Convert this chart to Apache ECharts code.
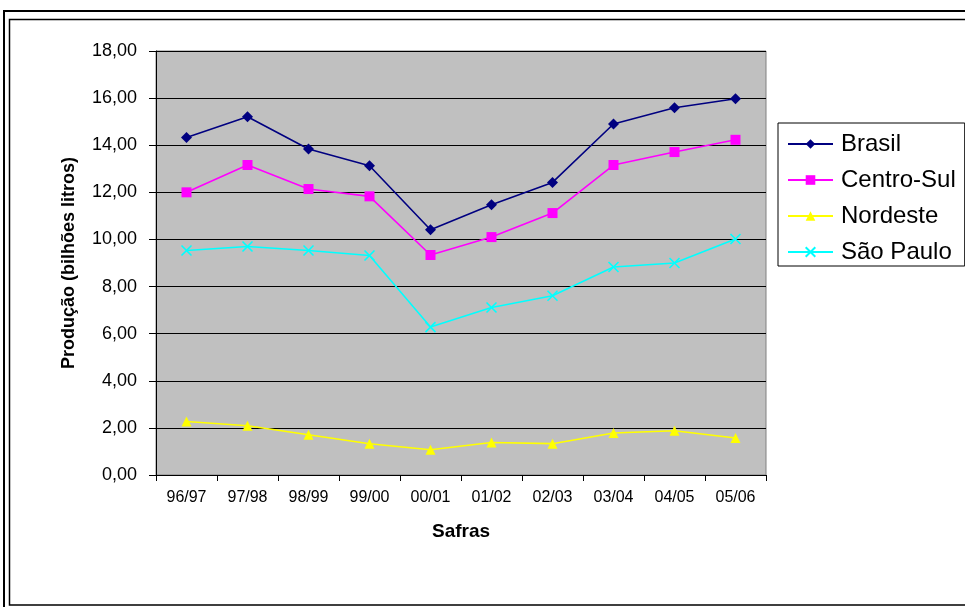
<!DOCTYPE html>
<html>
<head>
<meta charset="utf-8">
<script src="https://cdn.jsdelivr.net/npm/echarts@6/dist/echarts.min.js"></script>
<style>
  html, body { margin: 0; padding: 0; background: #ffffff; }
  #chart { width: 965px; height: 607px; }
</style>
</head>
<body>
<div id="chart"></div>
<script>
// Produção de álcool por safra (bilhões de litros)
const safras = ['96/97', '97/98', '98/99', '99/00', '00/01', '01/02', '02/03', '03/04', '04/05', '05/06'];
const brasil = [14.33, 15.21, 13.84, 13.13, 10.41, 11.47, 12.42, 14.90, 15.59, 15.97];
const centroSul = [12.00, 13.16, 12.14, 11.83, 9.34, 10.10, 11.12, 13.16, 13.71, 14.23];
const nordeste = [2.27, 2.09, 1.71, 1.33, 1.07, 1.38, 1.33, 1.78, 1.88, 1.57];
const saoPaulo = [9.53, 9.70, 9.53, 9.32, 6.28, 7.11, 7.61, 8.83, 9.00, 10.02];

const FONT = 'Liberation Sans, Arial, sans-serif';

function lineSeries(name, data, color, symbol, size) {
  return {
    name: name,
    type: 'line',
    data: data,
    symbol: symbol,
    symbolSize: size,
    showAllSymbol: true,
    lineStyle: { color: color, width: 1.6 },
    itemStyle: { color: color, borderWidth: 0 },
    emphasis: { disabled: true },
    animation: false
  };
}

// cross marker for São Paulo
const crossPath = 'path://M0,0 L10,10 M10,0 L0,10';

const chart = echarts.init(document.getElementById('chart'), null, { renderer: 'canvas' });
chart.setOption({
  backgroundColor: '#ffffff',
  animation: false,
  textStyle: { fontFamily: FONT },
  graphic: [
    { type: 'rect', shape: { x: 4, y: 11, width: 1000, height: 1000 },
      style: { fill: 'none', stroke: '#000', lineWidth: 2 }, silent: true },
    { type: 'rect', shape: { x: 9.5, y: 19.5, width: 1000, height: 585.5 },
      style: { fill: 'none', stroke: '#000', lineWidth: 1.5 }, silent: true }
  ],
  grid: {
    left: 156, top: 51, width: 610, height: 424,
    show: true, backgroundColor: '#c0c0c0', borderColor: '#808080', borderWidth: 1
  },
  legend: {
    orient: 'vertical',
    left: 778, top: 123,
    padding: [9, 9, 2, 9],
    itemGap: 12,
    itemWidth: 45, itemHeight: 12,
    backgroundColor: '#ffffff',
    borderColor: '#000', borderWidth: 1,
    textStyle: { fontSize: 24, lineHeight: 24, color: '#000', fontFamily: FONT, padding: [0, 0, 0, 3] },
    data: ['Brasil', 'Centro-Sul', 'Nordeste', 'São Paulo']
  },
  xAxis: {
    type: 'category',
    data: safras,
    boundaryGap: true,
    name: 'Safras',
    nameLocation: 'middle',
    nameGap: 47,
    nameTextStyle: { fontSize: 19, fontWeight: 'bold', color: '#000' },
    axisLine: { lineStyle: { color: '#000', width: 1 } },
    axisTick: { show: true, length: 6, lineStyle: { color: '#000' } },
    axisLabel: { fontSize: 16, color: '#000', margin: 15 },
    splitLine: { show: false }
  },
  yAxis: {
    type: 'value',
    min: 0, max: 18, interval: 2,
    name: 'Produção (bilhões litros)',
    nameLocation: 'middle',
    nameGap: 78,
    nameRotate: 90,
    nameTextStyle: { fontSize: 18, fontWeight: 'bold', color: '#000' },
    axisLine: { show: true, lineStyle: { color: '#000', width: 1 } },
    axisTick: { show: true, length: 7, lineStyle: { color: '#000' } },
    axisLabel: {
      fontSize: 18, color: '#000', margin: 19,
      formatter: v => v.toFixed(2).replace('.', ',')
    },
    splitLine: { show: true, lineStyle: { color: '#000', width: 1 } }
  },
  series: [
    lineSeries('Brasil', brasil, '#000080', 'diamond', 11),
    lineSeries('Centro-Sul', centroSul, '#ff00ff', 'rect', 10),
    lineSeries('Nordeste', nordeste, '#ffff00', 'triangle', 10),
    Object.assign(lineSeries('São Paulo', saoPaulo, '#00ffff', crossPath, 10), {
      itemStyle: { color: 'none', borderColor: '#00ffff', borderWidth: 1.6 }
    })
  ]
});
</script>
</body>
</html>
